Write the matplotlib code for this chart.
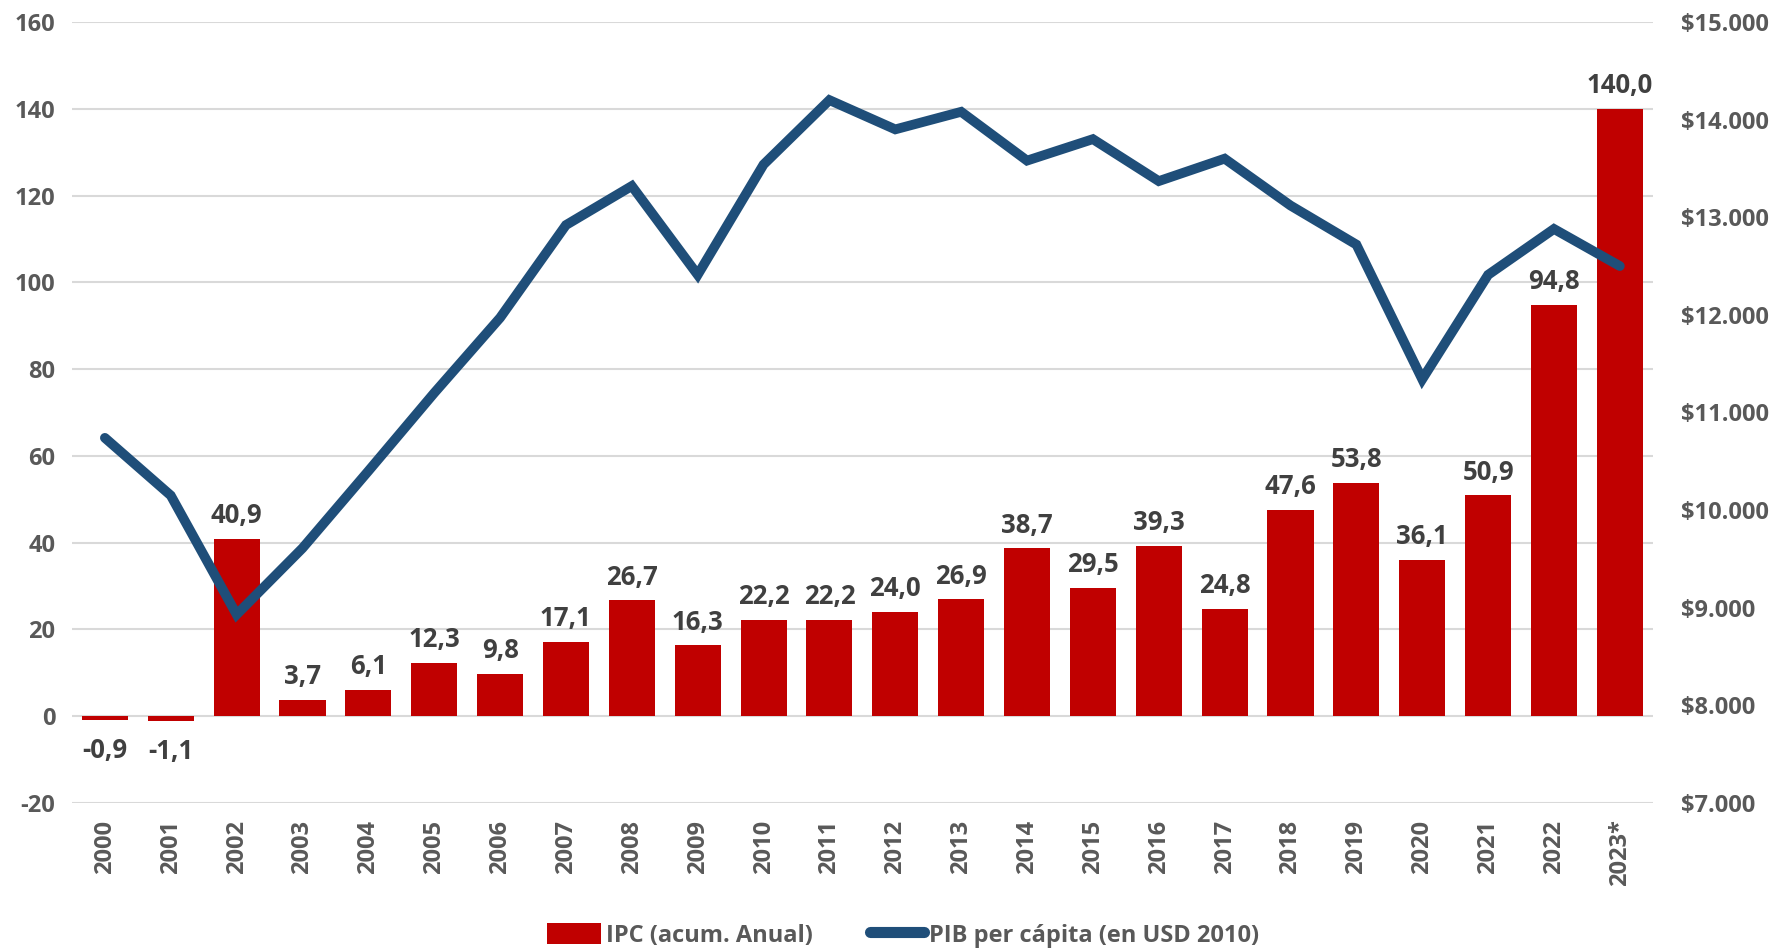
import matplotlib.pyplot as plt
import numpy as np
from matplotlib.lines import Line2D
from matplotlib.patches import Patch

plt.rcParams["font.family"] = ["Open Sans", "DejaVu Sans"]
plt.rcParams["axes.unicode_minus"] = False

years = ["2000", "2001", "2002", "2003", "2004", "2005", "2006", "2007", "2008",
         "2009", "2010", "2011", "2012", "2013", "2014", "2015", "2016", "2017",
         "2018", "2019", "2020", "2021", "2022", "2023*"]
ipc = [-0.9, -1.1, 40.9, 3.7, 6.1, 12.3, 9.8, 17.1, 26.7, 16.3, 22.2, 22.2,
       24.0, 26.9, 38.7, 29.5, 39.3, 24.8, 47.6, 53.8, 36.1, 50.9, 94.8, 140.0]
pib = [10740, 10150, 8930, 9610, 10400, 11200, 11970, 12920, 13320, 12410,
       13540, 14200, 13900, 14080, 13580, 13800, 13370, 13600, 13120, 12720,
       11340, 12410, 12880, 12500]

RED = "#C00000"
BLUE = "#1F4E79"
TICK = "#595959"
LABEL = "#404040"
FS = 17        # ejes y leyenda
FS_LBL = 18.5  # etiquetas de datos

fig = plt.figure(figsize=(17.81, 9.48), dpi=100)
ax = fig.add_axes([0.0404, 0.153, 0.8876, 0.8238])
x = np.arange(len(years))

ax.bar(x, ipc, width=0.7, color=RED, zorder=2)
for xi, v in zip(x, ipc):
    txt = f"{v:.1f}".replace(".", ",")
    if v >= 0:
        ax.annotate(txt, (xi, v), xytext=(0, 7), textcoords="offset points",
                    ha="center", va="bottom", fontsize=FS_LBL, fontweight="bold", color=LABEL)
    else:
        ax.annotate(txt, (xi, v), xytext=(0, -12), textcoords="offset points",
                    ha="center", va="top", fontsize=FS_LBL, fontweight="bold", color=LABEL)

ax.set_ylim(-20, 160)
ax.set_yticks(np.arange(-20, 161, 20))
ax.set_xlim(-0.5, len(years) - 0.5)
ax.set_xticks(x)
ax.set_xticklabels(years, rotation=90)
ax.grid(axis="y", color="#D9D9D9", linewidth=1.5, zorder=0)
ax.set_axisbelow(True)
ax.tick_params(length=0, labelsize=FS, labelcolor=TICK, pad=12)
for lbl in ax.get_xticklabels() + ax.get_yticklabels():
    lbl.set_fontweight("bold")
for s in ax.spines.values():
    s.set_visible(False)

ax2 = ax.twinx()
ax2.plot(x, pib, color=BLUE, linewidth=7, solid_capstyle="round",
         solid_joinstyle="miter", zorder=3)
ax2.set_ylim(7000, 15000)
ax2.set_yticks(np.arange(7000, 15001, 1000))
ax2.set_yticklabels([f"${v:,}".replace(",", ".") for v in range(7000, 15001, 1000)])
ax2.tick_params(length=0, labelsize=FS, labelcolor=TICK, pad=20)
for lbl in ax2.get_yticklabels():
    lbl.set_fontweight("bold")
for s in ax2.spines.values():
    s.set_visible(False)

handles = [Patch(facecolor=RED, label="IPC (acum. Anual)"),
           Line2D([0], [0], color=BLUE, linewidth=8, solid_capstyle="round",
                  label="PIB per cápita (en USD 2010)")]
leg = fig.legend(handles=handles, loc="lower center", bbox_to_anchor=(0.507, -0.022),
                 ncol=2, frameon=False, fontsize=FS, handlelength=2.3, handleheight=1.0,
                 handletextpad=0.2, columnspacing=2.4)
for t in leg.get_texts():
    t.set_color(TICK)
    t.set_fontweight("bold")

fig.savefig("out.png", dpi=100)
